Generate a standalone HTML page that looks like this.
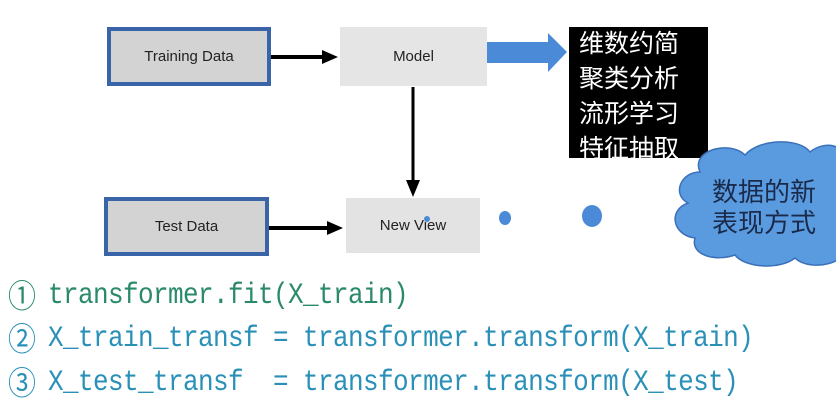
<!DOCTYPE html>
<html><head><meta charset="utf-8"><style>
body{margin:0;width:836px;height:400px;background:#fff;position:relative;overflow:hidden;font-family:"Liberation Sans",sans-serif}
.b{position:absolute;box-sizing:border-box;display:flex;align-items:center;justify-content:center;font-size:15px;color:#222}
.code{position:absolute;left:8px;height:30px;line-height:30px;font-family:"Liberation Mono","Noto Sans CJK SC",monospace;font-size:26px;letter-spacing:-0.6px;white-space:pre;transform:scaleY(1.15);transform-origin:left center}
.code span{display:inline-block;width:40px;height:30px;line-height:30px;vertical-align:top;font-family:"Noto Sans CJK SC",sans-serif;font-size:28px;letter-spacing:0}
.cjk{font-family:"Liberation Sans","Noto Sans CJK SC",sans-serif}
</style></head><body>
<div class="b" style="left:107px;top:27px;width:164px;height:59px;background:#d3d3d3;border:4px solid #3a64a8;">Training Data</div>
<div class="b" style="left:340px;top:27px;width:147px;height:59px;background:#e5e5e5;">Model</div>
<div class="b" style="left:104px;top:197px;width:165px;height:59px;background:#d3d3d3;border:4px solid #3a64a8;">Test Data</div>
<div class="b" style="left:346px;top:198px;width:134px;height:55px;background:#e3e3e3;">New View</div>
<div class="cjk" style="position:absolute;left:569px;top:27px;width:139px;height:131px;background:#000;color:#fff;font-size:25px;line-height:35px;box-sizing:border-box;padding:0 0 0 10px;">维数约简<br>聚类分析<br>流形学习<br>特征抽取</div>
<svg width="836" height="400" style="position:absolute;left:0;top:0">
<g fill="#000" stroke="#000">
<line x1="271" y1="57" x2="325" y2="57" stroke-width="4"/>
<polygon points="322,50 338,57 322,64" stroke="none"/>
<line x1="413" y1="87" x2="413" y2="182" stroke-width="3"/>
<polygon points="406,180 413,197 420,180" stroke="none"/>
<line x1="269" y1="228" x2="330" y2="228" stroke-width="4"/>
<polygon points="327,221 343,228 327,235" stroke="none"/>
</g>
<polygon points="487,42 548,42 548,33 567,52 548,72 548,63 487,63" fill="#4a8ad6"/>
<circle cx="427" cy="219" r="3" fill="#4a8ad6"/>
<ellipse cx="505" cy="218" rx="6" ry="7" fill="#4a8ad6"/>
<ellipse cx="592" cy="216" rx="10" ry="11" fill="#4a8ad6"/>
<path d="M700,172 C690,150 730,140 745,155 C760,138 800,138 810,152 C825,140 845,145 845,160 L845,255 C830,268 805,268 795,258 C780,270 745,268 735,255 C715,262 690,255 695,238 C672,235 668,210 688,203 C672,195 680,172 700,172 Z" fill="#5a9be0" stroke="#3a70b8" stroke-width="1.5"/>
</svg>
<div class="cjk" style="position:absolute;left:712px;top:177px;font-size:26px;line-height:31px;color:#1a2a4a">数据的新<br>表现方式</div>
<div class="code" style="top:280px;color:#2a8a6a"><span>①</span>transformer.fit(X_train)</div>
<div class="code" style="top:323px;color:#2a90b8"><span>②</span>X_train_transf = transformer.transform(X_train)</div>
<div class="code" style="top:367px;color:#2a90b8"><span>③</span>X_test_transf  = transformer.transform(X_test)</div>
</body></html>
